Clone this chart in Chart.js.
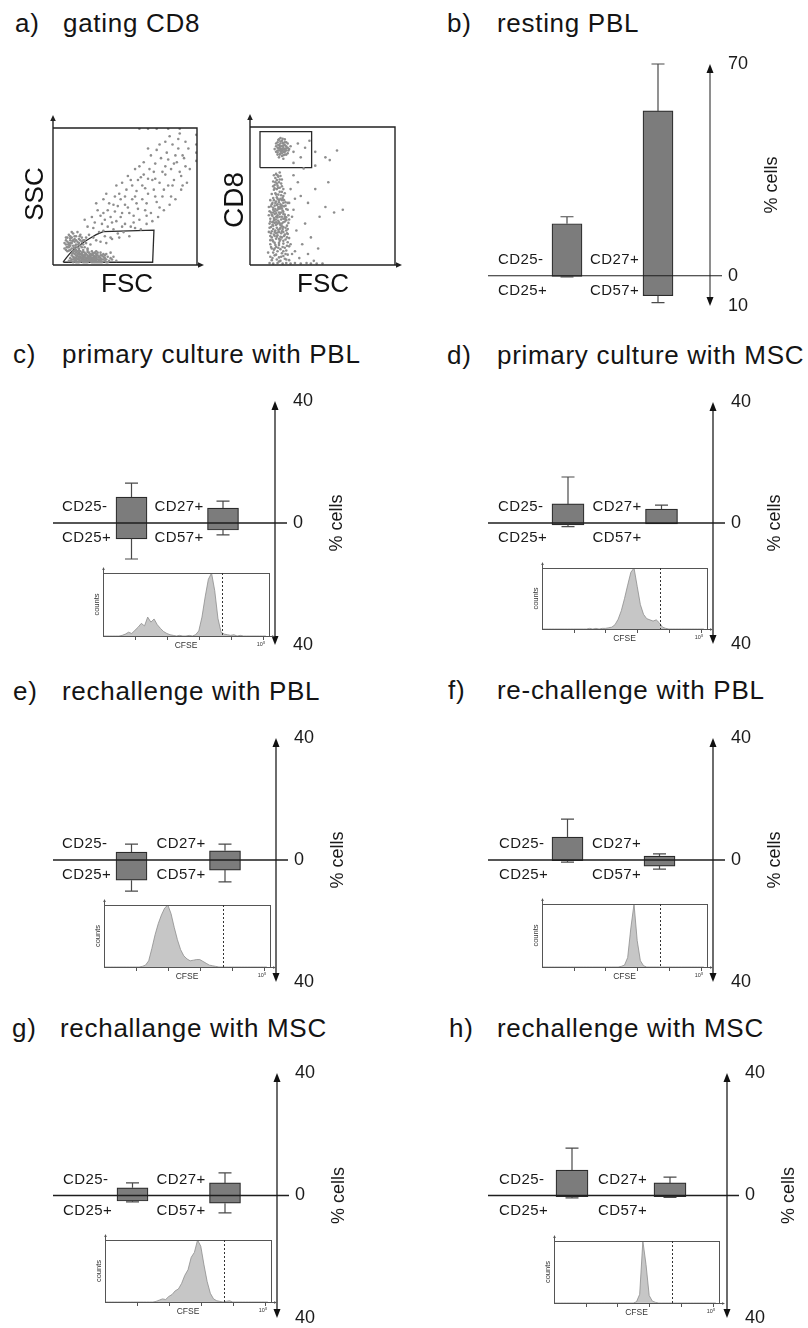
<!DOCTYPE html>
<html><head><meta charset="utf-8">
<script src="https://cdn.jsdelivr.net/npm/chart.js@4.4.1/dist/chart.umd.min.js"></script>
<style>
html,body{margin:0;padding:0;background:#fff;}
body{width:808px;height:1328px;position:relative;overflow:hidden;font-family:"Liberation Sans",Arial,sans-serif;}
.t{position:absolute;font-size:26px;letter-spacing:0.7px;line-height:1;color:#141414;white-space:nowrap;}
canvas{position:absolute;}
</style></head>
<body>
<div class="t" style="left:15px;top:10px">a)</div><div class="t" style="left:63px;top:10px">gating CD8</div>
<div class="t" style="left:447px;top:10px">b)</div><div class="t" style="left:497px;top:10px">resting PBL</div>
<div class="t" style="left:13px;top:341px">c)</div><div class="t" style="left:62px;top:341px">primary culture with PBL</div>
<div class="t" style="left:447px;top:342px">d)</div><div class="t" style="left:497px;top:342px">primary culture with MSC</div>
<div class="t" style="left:13px;top:678px">e)</div><div class="t" style="left:62px;top:678px">rechallenge with PBL</div>
<div class="t" style="left:448px;top:677px">f)</div><div class="t" style="left:497px;top:677px">re-challenge with PBL</div>
<div class="t" style="left:12px;top:1015px">g)</div><div class="t" style="left:60px;top:1015px">rechallange with MSC</div>
<div class="t" style="left:449px;top:1015px">h)</div><div class="t" style="left:497px;top:1015px">rechallenge with MSC</div>
<script>
// ================= DATA =================
const barCategories = ['CD25', 'CD27/CD57'];
// floating boxes [low, high] in % cells (negative side = CD25+ / CD57+)
const bBox = [[-0.2, 17.2], [-6.6, 54.5]];
const bErr = [[-0.4, 19.5], [-8.9, 70]];
const cBox = [[-5.2, 8.5], [-2.3, 4.9]];
const cErr = [[-11.8, 13.1], [-3.9, 7.2]];
const dBox = [[-0.6, 6.3], [-0.3, 4.6]];
const dErr = [[-1.2, 15.2], [-0.3, 5.9]];
const eBox = [[-6.6, 2.6], [-3.3, 3.0]];
const eErr = [[-10.2, 5.2], [-7.2, 5.2]];
const fBox = [[-0.2, 7.5], [-2.0, 1.3]];
const fErr = [[-0.7, 13.4], [-3.0, 2.0]];
const gBox = [[-1.8, 2.5], [-2.5, 4.1]];
const gErr = [[-2.1, 4.1], [-5.7, 7.4]];
const hBox = [[-0.4, 8.3], [-0.4, 4.1]];
const hErr = [[-0.8, 15.5], [-0.6, 6.0]];
const bTicks = [-10, 0, 70];
const cellTicks = [-40, 0, 40];

// CFSE histograms (log decades, normalised counts)
const cfseBins = [0,0.1,0.2,0.3,0.4,0.5,0.6,0.7,0.8,0.9,1.0,1.1,1.2,1.3,1.4,1.5,1.6,1.7,1.8,1.9,2.0,2.1,2.2,2.3,2.4,2.5,2.6,2.7,2.8,2.9,3.0,3.1,3.2,3.3,3.4,3.5,3.6,3.7,3.8,3.9,4.0,4.1,4.2,4.3,4.4,4.5,4.6,4.7,4.8,4.9,5.0,5.1];
const histC = [0,0,0,0,0,0, 0.01,0.03,0.06,0.04,0.09,0.14,0.2,0.16,0.3,0.22,0.27,0.18,0.12,0.07,0.04,0.02,0.01, 0,0.01,0,0,0.01,0, 0.02,0.08,0.3,0.62,0.9,1.0,0.72,0.28,0.06,0.03,0.02,0.01,0.02,0,0.01, 0,0,0,0,0,0,0,0];
const histD = [0,0,0,0,0,0,0,0,0,0,0,0,0,0,0, 0.01,0,0.01,0,0.01,0.01,0.02,0.03,0.07,0.16,0.3,0.5,0.72,0.93,1.0,0.7,0.4,0.24,0.17,0.15,0.13,0.15,0.1,0.03,0.01,0, 0,0,0,0,0,0,0,0,0,0,0];
const histE = [0,0,0,0,0,0,0,0,0,0,0,0, 0.01,0.03,0.1,0.3,0.52,0.7,0.84,0.95,1.0,0.86,0.64,0.44,0.28,0.18,0.13,0.1,0.11,0.12,0.12,0.09,0.06,0.03,0.02,0.01,0, 0,0,0,0,0,0,0,0,0,0,0,0,0,0,0];
const histF = [0,0,0,0,0,0,0,0,0,0,0,0,0,0,0,0,0,0,0,0,0,0,0,0,0, 0.01,0.03,0.15,0.62,1.0,0.42,0.1,0.02,0, 0,0,0,0,0,0,0,0,0,0,0,0,0,0,0,0,0,0];
const histG = [0,0,0,0,0,0,0,0,0,0,0,0,0,0,0,0, 0.01,0.03,0.05,0.04,0.09,0.12,0.18,0.21,0.3,0.43,0.52,0.72,0.8,1.0,0.9,0.6,0.33,0.14,0.05,0.02,0.01,0,0.01,0.02,0, 0,0,0,0,0,0,0,0,0,0,0];
const histH = [0,0,0,0,0,0,0,0,0,0,0,0,0,0,0,0,0,0,0,0,0,0,0,0,0,0, 0.02,0.14,1.0,0.62,0.12,0.03,0.01, 0,0,0,0,0,0,0,0,0,0,0,0,0,0,0,0,0,0,0];
const cfseGate = 3.73;
const cfseTicks = [1, 2, 3, 4, 5];

// Flow cytometry dot plots (channel %, FSC on x)
const sscFscDots = [
 [13,4],[14,6],[15,3],[15,8],[16,5],[17,2],[17,7],[18,4],[18,9],[19,3],[19,6],[20,5],[20,8],[21,2],[21,4],[22,6],[22,9],[23,3],[23,5],[24,7],[24,2],[25,4],[25,6],[26,3],[26,8],[27,5],[27,2],[28,4],[28,7],[29,3],[29,6],[30,5],[30,2],[31,4],[31,7],[32,3],[33,5],[33,2],[34,4],[35,6],[36,3],[14,2],[16,9],[18,6],[20,3],[22,4],[24,5],[26,6],[28,2],[30,8],[32,6],[19,10],[21,7],[23,8],[25,9],[27,7],[29,9],[31,2],[34,7],[37,4],[38,6],[12,5],[15,5],[17,4],[19,5],[21,6],[23,4],[25,3],[27,4],[29,5],[16,3],[18,2],[20,7],[22,2],[24,3],[26,5],[28,5],[30,3],[32,4],[34,2],[36,5],[39,3],[40,5],[13,7],[11,3],[14,9],[17,10],[35,8],[38,2],[41,4],
 [16.5,6.5],[18.5,3.5],[20.5,5.5],[22.5,7.5],[24.5,4.5],[26.5,2.5],[28.5,6.5],[19.5,8],[23.5,2.5],[27.5,8.5],[15.5,4],[21.5,3],[25.5,7],[29.5,4],[17.5,8.5],[31.5,5.5],
 [14.5,5.5],[16,7],[17.5,5],[18.5,7.5],[19,2.5],[20,9],[21,5],[22,7],[23,2],[24,9.5],[25,5],[26,7.5],[27,3],[28,8.5],[29,2],[30,6.5],[31,9],[32,2],[33,7],[35,4],[36,7],[37,2],[14,4],[12.5,3],[13.5,8.5],[16,2],[18,8],[20,4.5],[22,5.5],[24,6],[26,4],[28,3.5],[30,4],[33,3.5],[15,10],[18,11],[21,9.5],[24,11],[27,10],[30,10],[33,9],[37,8],[42,6],[44,3],[40,9],
 [8,12],[9,15],[9,18],[10,10],[10,13],[10,20],[11,16],[11,22],[12,11],[12,14],[12,18],[13,12],[13,16],[13,20],[14,10],[14,14],[14,23],[15,12],[15,17],[15,19],[16,11],[16,15],[16,21],[17,13],[17,17],[18,12],[18,16],[18,19],[19,14],[19,22],[20,13],[20,17],[21,15],[21,11],[22,18],[22,13],[23,16],[24,12],[11,13],[12,21],[13,24],[9,11],[8,16],[10,17],[14,18],[16,18],[17,24],[19,18],[20,20],[23,20],[11.5,14.5],[13.5,17.5],[15.5,14],[9.5,13],[12.5,16],[14.5,12.5],[10.5,15],[12,19.5],[15,21],[17.5,15],[18.5,21],[21,18],[9,20],[11,10.5],
 [25,22],[28,27],[30,18],[32,24],[34,30],[36,21],[38,28],[40,35],[42,26],[44,32],[46,20],[48,38],[50,30],[52,42],[54,28],[56,36],[58,45],[60,33],[62,48],[64,40],[66,52],[68,38],[70,55],[72,46],[74,60],[76,50],[78,66],[80,58],[82,70],[84,62],[86,75],[88,68],[90,80],[92,72],[94,85],[27,35],[31,40],[35,38],[39,45],[43,50],[47,48],[51,55],[55,58],[59,62],[63,66],[67,70],[71,74],[75,78],[79,82],[83,88],[87,92],[26,15],[33,17],[37,16],[41,19],[45,23],[49,24],[53,21],[57,27],[61,26],[65,30],[69,32],[73,35],[77,40],[81,44],[85,48],[89,55],[93,60],[29,31],[36,33],[43,39],[50,44],[57,50],[64,56],[71,63],[78,72],[85,80],[92,90],[24,28],[22,33],[30,45],[37,52],[44,58],[52,65],[60,72],[68,80],[74,88],[81,94],[35,25],[41,31],[47,35],[53,38],[59,41],[65,45],[71,50],[77,55],[83,58],[89,65],[95,70],[28,20],[45,43],[55,48],[62,58],[69,62],[76,68],[84,74],[91,78],[38,40],[46,52],[54,62],[63,75],[72,84],[40,20],[48,28],[56,31],[65,36],[74,42],[82,50],[90,58],[33,36],[58,54],[66,63],[80,77],[87,85],[42,44],[50,50],[61,64],[70,68],[35,48],[48,60],[57,70],[66,85],[78,90],[88,96],
 [60,99.5],[66,99.5],[72,99.5],[80,99.5],[88,99.5],[99.5,95],[99.5,88],[99.5,82],[99.5,76]
];
const sscFscGate = [[7.2,2.0],[7.2,2.4],[9.5,5.6],[11.8,8.5],[15,11.8],[18.8,14.6],[22,17.2],[25.7,19.5],[30,22.2],[34.9,24.3],[70.1,25.5],[69.2,2.0],[7.2,2.0]];
const cd8FscDots = [
 [17,84],[18,82],[18,86],[19,80],[19,85],[19,89],[20,83],[20,87],[20,91],[21,81],[21,84],[21,88],[22,79],[22,83],[22,86],[22,90],[23,82],[23,85],[23,88],[24,80],[24,84],[24,87],[25,83],[25,86],[25,89],[26,81],[26,85],[27,84],[20,78],[23,77],[21,92],[24,91],[18,88],[26,88],[19,83],[22,84],[24,82],[21,86],[25,80],[28,86],[30,82],[33,88],[38,85],[41,90],[20.5,85.5],[22.5,88.5],[23.5,83.5],[19.5,87],[21.5,82.5],
 [19,81.5],[20,84.5],[21,89.5],[22,81],[23,86.5],[24,89],[25,84.5],[20.5,80],[22.5,91.5],[23,79.5],[19.5,90.5],[26.5,83],
 [45,82],[52,78],[55,76],[60,83],[35,78],[30,74],
 [13.5,1.5],[16,1],[19,1.5],[22.5,1],[25,1.5],[28,1],[31,1.5],[35,1],[39,1.5],[15,3.5],[18.5,4],[21,3],[24,4.5],[27,3.5],[14,6],[17,7],[20,5.5],[23,6.5],[26,7.5],[16,9],[19,10],[22,8.5],[25,10.5],[15,12],[18,13],[21,11.5],[24,12.5],[27,13.5],[14,15],[17,16],[20,14.5],[23,15.5],[26,16.5],[15.5,18],[18,19],[20.5,17.5],[22,20],[24.5,18.5],[27,19.5],[14,21],[16.5,22],[19,21.5],[21.5,23],[23.5,21],[26,22.5],[15,24.5],[17.5,25],[20,24],[22.5,26],[25,25],[14.5,27.5],[16,28.5],[18.5,27],[21,29],[23,27.5],[25.5,28.5],[13.5,30],[15.5,31],[17,30.5],[19.5,32],[22,30],[24,31.5],[26.5,30.5],[14,33.5],[16.5,34],[18,33],[20.5,35],[23,33.5],[25,34.5],[15,36.5],[17,37],[19,36],[21.5,38],[24,36.5],[13.5,39],[16,40],[18.5,39.5],[20,41],[22.5,39.5],[25,40.5],[14.5,42.5],[17,43],[19.5,42],[21,44],[23.5,42.5],[15.5,45],[18,46],[20,45.5],[22,47],[24.5,45.5],[16,48.5],[18.5,49],[21,48],[23,50],[15,51.5],[17.5,52],[19.5,51],[22,53],[16.5,54.5],[18.5,55],[20.5,56],[23,55],[17,58],[19,57.5],[21.5,59],[16,60.5],[18.5,61.5],[20,60],[17.5,63],[19.5,64],[18,66],[20.5,67],[16.5,65],[22,62],[14,18],[26,26],[27,33],[13,24],[28,15],[12.5,9],[29,8],[26,40],[13,36],[24,52],[14,47],[20,19],[18,23],[22,35],[16,38],[19,44],[21,27],[17,12],[23,10],[25,4],[20,2.5],[17,33],[21,41],[19,30],[15,20],[17,21],[19,23.5],[21,20.5],[23,24],[16,26],[18,29],[20,31],[22,28],[24,33.5],[17.5,40.5],[20,38],[22,43],[18,35],[16,31],[20.5,26],[23,37],
 [15.5,5],[18,7.5],[21.5,6],[24.5,8],[16.5,11],[19.5,12.5],[22.5,13],[25.5,14],[14.5,13],[17.5,14.5],[20,16],[23,17.5],[25.5,20],[16,17],[18.5,20.5],[21,18.5],[24,22],[14.5,23],[17,24],[19.5,25.5],[22,24.5],[24.5,27],[15.5,29],[18,31],[20.5,30],[23,31],[25,32.5],[14,31.5],[16.5,32.5],[19,34.5],[21.5,33],[24,35],[15.5,35.5],[18,37.5],[20.5,37],[23,38.5],[14.5,38],[17,39],[19.5,40.5],[22,41],[24.5,43],[16,41.5],[18.5,43.5],[21,42.5],[23,45],[15,44],[17.5,45],[20,47],[22.5,48.5],[16.5,47],[19,48],[21.5,50.5],[18,51],[20.5,53],[17,55.5],[19.5,56],[22,57],[18.5,59],[20.5,62],[17.5,60],[19,65],[21,64.5],[16,57],[23.5,47],[13.5,27],[26.5,36],[25.5,23],[13,42],[26,45],
 [30,40],[32,25],[35,50],[38,30],[40,45],[42,20],[45,55],[48,35],[33,60],[36,15],[52,42],[58,38],[64,40],[31,10],[34,5],[40,8],[44,3],[28,55],[30,65],[37,70],[45,72],[54,60],[47,12],[29,35],[31,48],[27,45],
 [42,1],[46,1],[50,1]
];
const cd8FscGate = [[6.9,70.5],[6.9,96.6],[42.5,96.6],[42.5,70.5],[6.9,70.5]];

// ================= LAYOUT / STYLE =================
const FONT = '"Liberation Sans", Arial, sans-serif';
Chart.defaults.font.family = FONT;

function tri(ctx, x, y, dir, len, half){
  ctx.beginPath();
  if (dir==='up'){ ctx.moveTo(x,y); ctx.lineTo(x-half,y+len); ctx.lineTo(x+half,y+len); }
  else if (dir==='down'){ ctx.moveTo(x,y); ctx.lineTo(x-half,y-len); ctx.lineTo(x+half,y-len); }
  else { ctx.moveTo(x,y); ctx.lineTo(x-len,y-half); ctx.lineTo(x-len,y+half); }
  ctx.closePath(); ctx.fill();
}
function mkCanvas(l,t,w,h){
  const cv=document.createElement('canvas');
  cv.width=w; cv.height=h; cv.style.left=l+'px'; cv.style.top=t+'px';
  cv.style.width=w+'px'; cv.style.height=h+'px';
  document.body.appendChild(cv); return cv;
}

// ---- bar panels ----
const barPanels = [
  {id:'b', box:bBox, err:bErr, ticks:bTicks, min:-10, max:70, col:1, top:64, bottom:306, L:521.5, R:703.5, axisX:710, zeroL:488, bw:30, thin:true, lab:54},
  {id:'c', box:cBox, err:cErr, ticks:cellTicks, min:-40, max:40, col:0, top:401, bottom:645, L:85.75, R:268.75, axisX:275, zeroL:53, bw:31, lab:54},
  {id:'d', box:dBox, err:dErr, ticks:cellTicks, min:-40, max:40, col:1, top:402, bottom:644, L:521.25, R:708.25, axisX:713, zeroL:488, bw:32, lab:54},
  {id:'e', box:eBox, err:eErr, ticks:cellTicks, min:-40, max:40, col:0, top:738, bottom:982, L:84.75, R:271.75, axisX:276, zeroL:53, bw:31, lab:54},
  {id:'f', box:fBox, err:fErr, ticks:cellTicks, min:-40, max:40, col:1, top:738, bottom:982, L:521.5, R:705.5, axisX:713, zeroL:488, bw:31, lab:53},
  {id:'g', box:gBox, err:gErr, ticks:cellTicks, min:-40, max:40, col:0, top:1073, bottom:1318, L:86.25, R:271.25, axisX:277, zeroL:53, bw:31, lab:54},
  {id:'h', box:hBox, err:hErr, ticks:cellTicks, min:-40, max:40, col:1, top:1073, bottom:1318, L:523, R:719, axisX:727, zeroL:488, bw:32, lab:57}
];

function barDecor(p, left){
  return {id:'barDecor'+p.id, afterDatasetsDraw(chart){
    const ctx=chart.ctx, y=chart.scales.y, ax=p.axisX-left;
    const y0=y.getPixelForValue(0), yt=y.getPixelForValue(p.max), yb=y.getPixelForValue(p.min);
    const meta=chart.getDatasetMeta(0);
    ctx.save();
    ctx.strokeStyle='#4a4a4a'; ctx.lineWidth=1.2;
    meta.data.forEach((bar,i)=>{
      const lo=p.box[i][0], hi=p.box[i][1], elo=p.err[i][0], ehi=p.err[i][1];
      const seg=(v1,v2)=>{ const a=y.getPixelForValue(v1), b=y.getPixelForValue(v2);
        ctx.beginPath(); ctx.moveTo(bar.x,a); ctx.lineTo(bar.x,b);
        ctx.moveTo(bar.x-6.5,b); ctx.lineTo(bar.x+6.5,b); ctx.stroke(); };
      if (ehi>hi) seg(hi,ehi);
      if (elo<lo) seg(lo,elo);
    });
    ctx.strokeStyle='#1e1e1e'; ctx.lineWidth=p.thin?1:1.6;
    ctx.beginPath(); ctx.moveTo(p.zeroL-left,y0); ctx.lineTo(ax+12,y0); ctx.stroke();
    ctx.lineWidth=p.thin?1:1.3; ctx.fillStyle='#111';
    ctx.beginPath(); ctx.moveTo(ax,yt+5); ctx.lineTo(ax,yb-5); ctx.stroke();
    tri(ctx,ax,yt,'up',9,3.5); tri(ctx,ax,yb,'down',9,3.5);
    ctx.fillStyle='#1a1a1a'; ctx.font='15px '+FONT; ctx.textAlign='left'; ctx.textBaseline='middle';
    if ('letterSpacing' in ctx) ctx.letterSpacing='0.4px';
    const b0=meta.data[0], b1=meta.data[1];
    ctx.fillText('CD25-', b0.x-b0.width/2-p.lab, y0-16);
    ctx.fillText('CD25+', b0.x-b0.width/2-p.lab, y0+15);
    ctx.fillText('CD27+', b1.x-b1.width/2-p.lab+1, y0-16);
    ctx.fillText('CD57+', b1.x-b1.width/2-p.lab+1, y0+15);
    if ('letterSpacing' in ctx) ctx.letterSpacing='0px';
    ctx.font='18px '+FONT; ctx.textAlign='center'; ctx.textBaseline='alphabetic';
    ctx.translate(ax+67,(yt+yb)/2); ctx.rotate(-Math.PI/2); ctx.fillText('% cells',0,0);
    ctx.restore();
  }};
}

barPanels.forEach(p=>{
  const left=p.col?404:0, width=404, top=p.top-24, height=p.bottom-p.top+48;
  const cv=mkCanvas(left,top,width,height);
  const yW=width-(p.R-left);
  new Chart(cv,{
    type:'bar',
    data:{labels:barCategories, datasets:[{data:p.box, backgroundColor:'#7c7c7c', borderColor:'#2b2b2b', borderWidth:1.2, borderSkipped:false, barThickness:p.bw}]},
    options:{
      responsive:false, animation:false, events:[],
      layout:{autoPadding:false, padding:{left:p.L-left, right:0, top:24, bottom:24}},
      plugins:{legend:{display:false}, tooltip:{enabled:false}},
      scales:{
        x:{display:false},
        y:{position:'right', min:p.min, max:p.max,
           grid:{display:false, drawTicks:false}, border:{display:false},
           afterBuildTicks:(s)=>{ s.ticks=p.ticks.map(v=>({value:v})); },
           afterFit:(s)=>{ s.width=yW; s.paddingTop=0; s.paddingBottom=0; },
           ticks:{padding:p.axisX+18-p.R, color:'#1a1a1a', font:{size:18, family:FONT}, callback:(v)=>String(Math.abs(v))}}
      }
    },
    plugins:[barDecor(p,left)]
  });
});

// ---- CFSE histograms ----
const histPanels = [
  {id:'c', vals:histC, x0:103, x1:269, y0:573, y1:636},
  {id:'d', vals:histD, x0:542, x1:707, y0:568, y1:629},
  {id:'e', vals:histE, x0:104, x1:270, y0:905, y1:967},
  {id:'f', vals:histF, x0:542, x1:707, y0:904, y1:967},
  {id:'g', vals:histG, x0:105, x1:271, y0:1240, y1:1302},
  {id:'h', vals:histH, x0:554, x1:719, y0:1241, y1:1303}
];
function histDecor(h){
  return {id:'histDecor'+h.id, afterDatasetsDraw(chart){
    const ctx=chart.ctx, a=chart.chartArea, xs=chart.scales.x;
    ctx.save();
    ctx.strokeStyle='#555'; ctx.fillStyle='#555'; ctx.lineWidth=1;
    ctx.strokeRect(a.left+0.5,a.top+0.5,a.right-a.left,a.bottom-a.top);
    ctx.beginPath(); ctx.moveTo(a.left+0.5,a.top); ctx.lineTo(a.left+0.5,a.top-4); ctx.stroke();
    tri(ctx,a.left+0.5,a.top-6,'up',3,1.3);
    ctx.beginPath(); ctx.moveTo(a.right,a.bottom+0.5); ctx.lineTo(a.right+4,a.bottom+0.5); ctx.stroke();
    tri(ctx,a.right+6,a.bottom+0.5,'right',3,1.3);
    ctx.beginPath();
    cfseTicks.forEach(t=>{ const x=Math.round(xs.getPixelForValue(t))+0.5; ctx.moveTo(x,a.bottom+1); ctx.lineTo(x,a.bottom+4); });
    ctx.stroke();
    ctx.strokeStyle='#333'; ctx.setLineDash([2,2]);
    const gx=Math.round(xs.getPixelForValue(cfseGate))+0.5;
    ctx.beginPath(); ctx.moveTo(gx,a.top); ctx.lineTo(gx,a.bottom); ctx.stroke();
    ctx.setLineDash([]);
    ctx.fillStyle='#333'; ctx.textAlign='center'; ctx.textBaseline='middle';
    ctx.font='8.5px '+FONT; ctx.fillText('CFSE',(a.left+a.right)/2,a.bottom+10);
    ctx.font='5.5px '+FONT; ctx.fillText('10\u2075',a.right-8,a.bottom+8);
    ctx.font='7.5px '+FONT;
    ctx.translate(a.left-6,(a.top+a.bottom)/2); ctx.rotate(-Math.PI/2); ctx.fillText('counts',0,0);
    ctx.restore();
  }};
}
histPanels.forEach(h=>{
  const padL=22,padR=22,padT=10,padB=20;
  const cv=mkCanvas(h.x0-padL,h.y0-padT,(h.x1-h.x0)+padL+padR,(h.y1-h.y0)+padT+padB);
  new Chart(cv,{
    type:'line',
    data:{datasets:[{data:cfseBins.map((x,i)=>({x:x,y:h.vals[i]})), fill:'origin', backgroundColor:'#c6c6c6', borderColor:'#8d8d8d', borderWidth:0.8, pointRadius:0, tension:0}]},
    options:{
      responsive:false, animation:false, events:[],
      layout:{autoPadding:false, padding:{left:padL,right:padR,top:padT,bottom:padB}},
      plugins:{legend:{display:false}, tooltip:{enabled:false}},
      scales:{x:{type:'linear',min:0,max:5.2,display:false}, y:{min:0,max:1,display:false}}
    },
    plugins:[histDecor(h)]
  });
});

// ---- dot plots ----
const dotPanels = [
  {id:'s1', dots:sscFscDots, gate:sscFscGate, yLabel:'SSC', cl:0, ct:100, cw:215, ch:205, pad:{left:53,right:18,top:28,bottom:40}, fscX:127, yLabX:43, yLabY:194, yFont:26},
  {id:'s2', dots:cd8FscDots, gate:cd8FscGate, yLabel:'CD8', cl:215, ct:100, cw:200, ch:205, pad:{left:35,right:20,top:27,bottom:40}, fscX:323, yLabX:243, yLabY:200, yFont:28}
];
function dotDecor(s){
  return {id:'dotDecor'+s.id, afterDatasetsDraw(chart){
    const ctx=chart.ctx, a=chart.chartArea;
    ctx.save();
    ctx.strokeStyle='#222'; ctx.fillStyle='#222'; ctx.lineWidth=1.4;
    ctx.beginPath(); ctx.moveTo(a.left,a.top); ctx.lineTo(a.right,a.top); ctx.lineTo(a.right,a.bottom); ctx.stroke();
    ctx.beginPath(); ctx.moveTo(a.left,a.bottom); ctx.lineTo(a.left,a.top-9); ctx.stroke();
    tri(ctx,a.left,a.top-13,'up',6,2.8);
    ctx.beginPath(); ctx.moveTo(a.left,a.bottom); ctx.lineTo(a.right+3,a.bottom); ctx.stroke();
    tri(ctx,a.right+7,a.bottom,'right',6,2.8);
    ctx.fillStyle='#111'; ctx.textAlign='center'; ctx.textBaseline='alphabetic';
    ctx.font='26px '+FONT; ctx.fillText('FSC',s.fscX-s.cl,292-s.ct);
    ctx.font=s.yFont+'px '+FONT;
    ctx.translate(s.yLabX-s.cl,s.yLabY-s.ct); ctx.rotate(-Math.PI/2); ctx.fillText(s.yLabel,0,0);
    ctx.restore();
  }};
}
dotPanels.forEach(s=>{
  const cv=mkCanvas(s.cl,s.ct,s.cw,s.ch);
  new Chart(cv,{
    type:'scatter',
    data:{datasets:[
      {data:s.dots.map(d=>({x:d[0],y:d[1]})), pointRadius:1.3, pointBorderWidth:0, pointBackgroundColor:'#8e8e8e', showLine:false},
      {type:'line', data:s.gate.map(d=>({x:d[0],y:d[1]})), borderColor:'#2a2a2a', borderWidth:1.3, pointRadius:0, fill:false, tension:0, showLine:true}
    ]},
    options:{
      responsive:false, animation:false, events:[],
      layout:{autoPadding:false, padding:s.pad},
      plugins:{legend:{display:false}, tooltip:{enabled:false}},
      scales:{x:{type:'linear',min:0,max:100,display:false}, y:{min:0,max:100,display:false}}
    },
    plugins:[dotDecor(s)]
  });
});
</script>
</body></html>
